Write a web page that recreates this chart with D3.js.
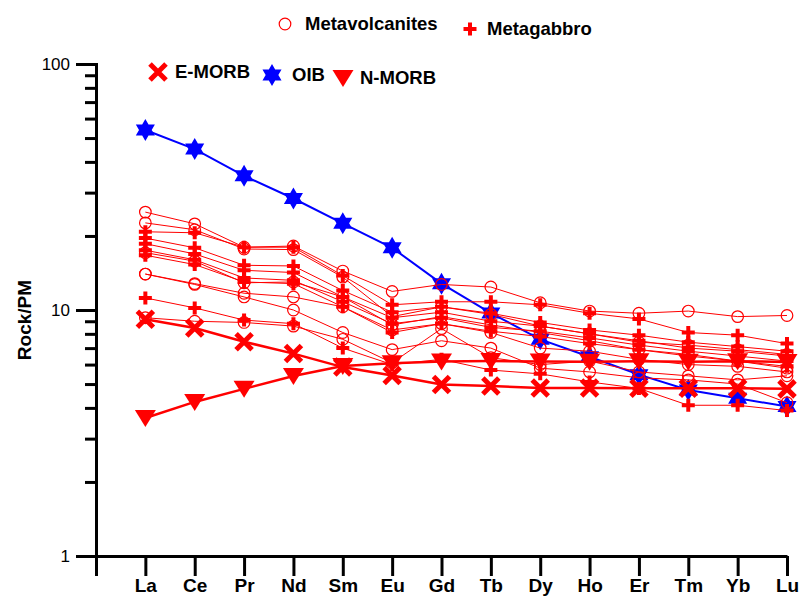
<!DOCTYPE html>
<html>
<head>
<meta charset="utf-8">
<script src="https://cdn.jsdelivr.net/npm/d3@7"></script>
<style>
  body { margin: 0; background: #fff; }
  svg { display: block; font-family: "Liberation Sans", Arial, sans-serif; }
</style>
</head>
<body>
<svg id="chart" width="800" height="596"></svg>
<script>
// REE, primitive-mantle normalised
const elements = ['La', 'Ce', 'Pr', 'Nd', 'Sm', 'Eu', 'Gd', 'Tb', 'Dy', 'Ho', 'Er', 'Tm', 'Yb', 'Lu'];

const oib   = [53.9, 45.1, 35.1, 28.4, 22.5, 17.9, 12.8, 9.72, 7.60, 6.46, 5.46, 4.73, 4.38, 4.05];
const emorb = [9.17, 8.45, 7.43, 6.65, 5.86, 5.42, 4.98, 4.91, 4.82, 4.82, 4.81, 4.81, 4.81, 4.78];
const nmorb = [3.64, 4.23, 4.78, 5.39, 5.92, 6.07, 6.17, 6.20, 6.17, 6.16, 6.19, 6.16, 6.19, 6.15];

const metavolcanites = [
  [25.0, 22.4, 18.0, 18.2, 14.4, 11.9, 12.7, 12.4, 10.7, 9.9, 9.7, 9.9, 9.4, 9.5],
  [22.6, 21.2, 17.7, 17.6, 13.6, 9.4, 10.3, 9.6, 8.6, 8.0, 7.4, 7.2, 6.9, 6.6],
  [17.1, 15.8, 12.9, 13.0, 11.3, 8.7, 9.4, 8.7, 8.1, 7.5, 6.9, 6.6, 6.2, 5.8],
  [14.0, 12.8, 11.7, 11.3, 10.3, 8.3, 8.8, 8.1, 7.0, 6.8, 6.3, 6.0, 5.9, 5.6],
  [14.0, 12.7, 11.3, 10.0, 8.1, 6.9, 7.5, 7.0, 5.8, 5.6, 5.3, 5.2, 5.0, 4.2],
  [9.3, 9.0, 8.9, 8.6, 7.6, 6.1, 8.4, 6.4, 6.0, 6.2, 5.6, 5.4, 5.2, 5.4]
];

const metagabbro = [
  [20.8, 20.6, 18.0, 18.0, 13.8, 10.5, 10.8, 10.8, 10.5, 9.7, 9.2, 8.1, 7.9, 7.3],
  [19.6, 17.9, 15.2, 15.1, 12.0, 9.8, 10.3, 9.7, 8.9, 8.3, 7.9, 7.4, 7.1, 6.8],
  [18.6, 16.9, 14.5, 14.2, 11.3, 9.3, 9.8, 9.0, 8.6, 8.0, 7.5, 7.0, 6.8, 6.5],
  [17.5, 16.0, 13.5, 13.2, 10.8, 8.8, 9.3, 8.5, 8.2, 7.7, 7.2, 6.8, 6.5, 6.2],
  [16.7, 15.3, 13.0, 12.8, 10.3, 8.1, 8.8, 8.2, 7.8, 7.3, 6.9, 6.5, 6.2, 5.9],
  [11.2, 10.2, 9.1, 8.8, 7.0, 6.0, 6.3, 5.7, 5.5, 5.1, 4.8, 4.1, 4.1, 3.9]
];

const yMajor = [1, 10, 100];
const yMinor = [2, 3, 4, 5, 6, 7, 8, 9, 20, 30, 40, 50, 60, 70, 80, 90];

const RED = '#ff0000';
const BLUE = '#0000ff';
const FONT = '"Liberation Sans", Arial, sans-serif';

const svg = d3.select('#chart');

const x = d3.scaleLinear().domain([0, elements.length]).range([96, 787]);
const y = d3.scaleLog().domain([1, 100]).range([556, 64]);

// axes
const yMinorAxis = svg.append('g')
  .attr('transform', `translate(${x(0)},0)`)
  .call(d3.axisLeft(y).tickValues(yMinor).tickSize(11).tickFormat(''));

const yMajorAxis = svg.append('g')
  .attr('transform', `translate(${x(0)},0)`)
  .call(d3.axisLeft(y).tickValues(yMajor).tickSize(20).tickSizeOuter(0).tickPadding(6)
    .tickFormat(d3.format('d')));

const xAxis = svg.append('g')
  .attr('transform', `translate(0,${y(1)})`)
  .call(d3.axisBottom(x).tickValues(d3.range(0, elements.length + 1)).tickSize(20).tickSizeOuter(0)
    .tickPadding(3).tickFormat((d) => d == 0 ? '' : elements[d - 1]));

[yMinorAxis, yMajorAxis, xAxis].forEach((a) => {
  a.selectAll('path.domain').attr('stroke', '#000').attr('stroke-width', 3);
  a.selectAll('.tick line').attr('stroke', '#000').attr('stroke-width', 3);
});
yMajorAxis.selectAll('text').attr('font-size', 17).attr('fill', '#000').attr('font-family', FONT);
xAxis.selectAll('text').attr('font-size', 19).attr('font-weight', 'bold').attr('fill', '#000')
  .attr('font-family', FONT);

svg.append('text')
  .attr('transform', 'translate(31,320) rotate(-90)')
  .attr('text-anchor', 'middle')
  .attr('font-size', 19)
  .attr('font-weight', 'bold')
  .text('Rock/PM');

// markers
function hexagram(r) {
  const pts = d3.range(12).map((i) => {
    const a = -Math.PI / 2 + i * Math.PI / 6;
    const rr = i % 2 == 0 ? r : r / Math.sqrt(3);
    return [rr * Math.cos(a), rr * Math.sin(a)];
  });
  return 'M' + pts.join('L') + 'Z';
}

const markers = {
  circle(g) {
    g.append('circle').attr('r', 5.8).attr('fill', 'none').attr('stroke', RED).attr('stroke-width', 1.2);
  },
  plus(g) {
    g.append('path').attr('d', 'M-6.5,0H6.5M0,-6.5V6.5').attr('stroke', RED).attr('stroke-width', 4);
  },
  cross(g) {
    g.append('path').attr('d', 'M-8,-8L8,8M-8,8L8,-8').attr('stroke', RED).attr('stroke-width', 5);
  },
  star(g) {
    g.append('path').attr('d', hexagram(11)).attr('fill', BLUE);
  },
  tri(g) {
    g.append('path').attr('d', 'M-10.5,-8H10.5L0,9Z').attr('fill', RED);
  }
};

const line = d3.line().x((d, i) => x(i + 1)).y((d) => y(d));

function series(values, color, width, marker) {
  const g = svg.append('g');
  g.append('path').attr('d', line(values)).attr('fill', 'none')
    .attr('stroke', color).attr('stroke-width', width);
  values.forEach((v, i) => {
    markers[marker](g.append('g').attr('transform', `translate(${x(i + 1)},${y(v)})`));
  });
}

series(oib, BLUE, 2, 'star');
series(emorb, RED, 2.5, 'cross');
series(nmorb, RED, 2.5, 'tri');
metagabbro.forEach((s) => series(s, RED, 1, 'plus'));
metavolcanites.forEach((s) => series(s, RED, 1, 'circle'));

// legend
function legendItem(mx, my, tx, marker, label) {
  markers[marker](svg.append('g').attr('transform', `translate(${mx},${my})`));
  svg.append('text').attr('x', tx).attr('y', my).attr('dy', '0.35em')
    .attr('font-size', 18.5).attr('font-weight', 'bold').text(label);
}

legendItem(285, 24, 305, 'circle', 'Metavolcanites');
legendItem(470, 29, 487, 'plus', 'Metagabbro');
legendItem(158, 72, 175, 'cross', 'E-MORB');
legendItem(272, 75, 292, 'star', 'OIB');
legendItem(343, 78, 360, 'tri', 'N-MORB');
</script>
</body>
</html>
